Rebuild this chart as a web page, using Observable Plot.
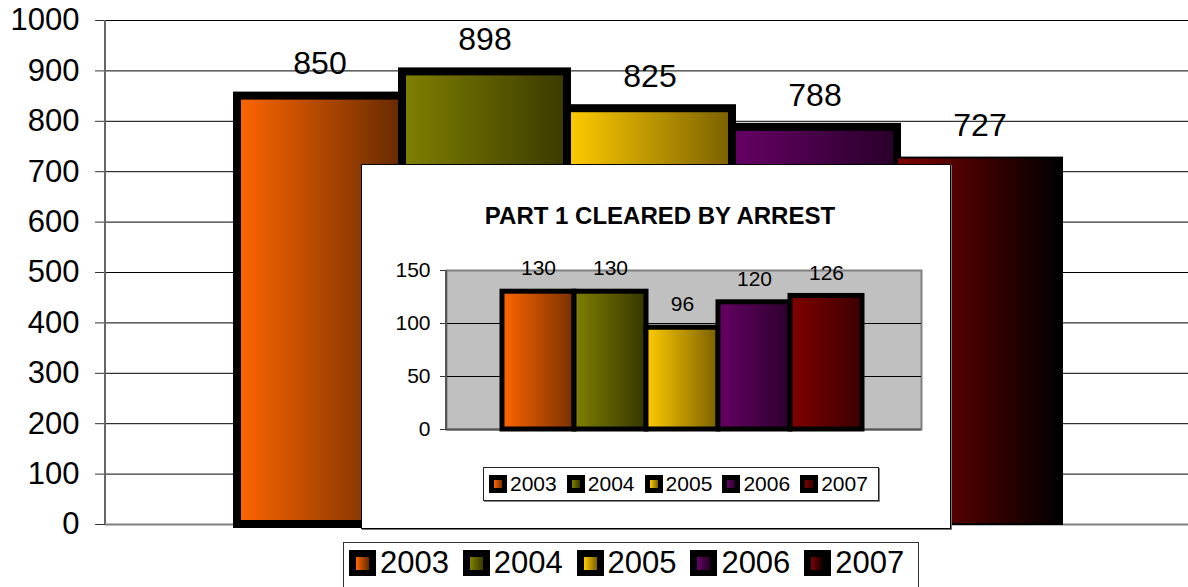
<!DOCTYPE html>
<html><head><meta charset="utf-8">
<script src="https://cdn.jsdelivr.net/npm/d3@7"></script>
<script src="https://cdn.jsdelivr.net/npm/@observablehq/plot@0.6"></script>
<style>
html,body{margin:0;padding:0;background:#fff;overflow:hidden;}
body{font-family:"Liberation Sans",Arial,sans-serif;color:#000;}
#wrap{position:relative;width:1188px;height:587px;overflow:hidden;}
#main{position:absolute;left:0;top:0;}
#inset{position:absolute;left:361px;top:164px;width:590px;height:365px;box-sizing:border-box;border:1px solid #000;background:#fff;box-shadow:1px 1px 0 #777;}
#insetTitle{position:absolute;left:4px;top:38px;width:100%;text-align:center;font-weight:bold;font-size:24px;line-height:26px;}
#insetPlot{position:absolute;left:0;top:80px;}
.legend{position:absolute;box-sizing:border-box;background:#fff;display:flex;align-items:center;}
#insetLegend{left:121px;top:302px;width:396px;height:34px;border:1px solid #222;box-shadow:1px 1px 0 #888;padding-left:5px;}
#mainLegend{left:343px;top:542px;width:576px;height:60px;border:1px solid #333;padding-left:5px;align-items:flex-start;padding-top:7px;}
.item{display:flex;align-items:center;}
#insetLegend .item{width:78px;font-size:21px;}
#mainLegend .item{width:115px;font-size:31px;height:26px;}
.sw{background:#000;display:flex;align-items:center;justify-content:center;flex:none;}
#insetLegend .sw{width:18px;height:18px;margin-right:3px;}
#insetLegend .sw span{width:8px;height:8px;display:block;}
#mainLegend .sw{width:27px;height:26px;margin-right:4px;}
#mainLegend .sw span{width:13px;height:13px;display:block;}
</style></head><body>
<div id="wrap">
  <div id="main"></div>
  <div id="inset">
    <div id="insetTitle"></div>
    <div id="insetPlot"></div>
    <div id="insetLegend" class="legend"></div>
  </div>
  <div id="mainLegend" class="legend"></div>
</div>
<script>
// ---- data ----
const years = ["2003", "2004", "2005", "2006", "2007"];
const totalValues = [850, 898, 825, 788, 727];
const arrestValues = [130, 130, 96, 120, 126];
const mainTicks = [0, 100, 200, 300, 400, 500, 600, 700, 800, 900, 1000];
const insetTicks = [0, 50, 100, 150];
const insetTitle = "PART 1 CLEARED BY ARREST";

// ---- styles ----
const startColors = ["#FF6600", "#808000", "#FFCC00", "#660066", "#800000"];
const insetEndColors = ["#783000", "#363600", "#7A6000", "#2C002C", "#3C0000"];
const mainEndColors = ["#662A00", "#3A3A00", "#7A6000", "#280028", "#000000"];
const FONT = '"Liberation Sans", Arial, sans-serif';

const mainData = years.map((y, i) => ({year: y, value: totalValues[i]}));
const insetData = years.map((y, i) => ({year: y, value: arrestValues[i]}));

function addGradients(svg, prefix, ends) {
  const defs = d3.select(svg).insert("defs", ":first-child");
  years.forEach((y, i) => {
    const g = defs.append("linearGradient").attr("id", prefix + y)
      .attr("x1", "0").attr("x2", "1").attr("y1", "0").attr("y2", "0");
    g.append("stop").attr("offset", "0").attr("stop-color", startColors[i]);
    g.append("stop").attr("offset", "1").attr("stop-color", ends[i]);
  });
}

function leftLine(color, w) {
  return (index, scales, values, dims) => d3.create("svg:line")
    .attr("x1", dims.marginLeft).attr("x2", dims.marginLeft)
    .attr("y1", dims.marginTop).attr("y2", dims.height - dims.marginBottom)
    .attr("stroke", color).attr("stroke-width", w).node();
}

// ---- main chart ----
const mainPlot = Plot.plot({
  width: 1188, height: 540,
  marginLeft: 105, marginRight: 0, marginTop: 20, marginBottom: 16,
  style: {fontFamily: FONT, background: "transparent", color: "#000", overflow: "visible"},
  x: {domain: years, range: [237, 1062], padding: 0, axis: null},
  y: {domain: [0, 1000], label: null},
  color: {domain: years, range: years.map(y => `url(#gm-${y})`)},
  marks: [
    Plot.gridY(mainTicks, {stroke: "#000", strokeOpacity: 1, strokeWidth: 1}),
    Plot.axisY(mainTicks, {tickSize: 10, tickPadding: 16, fontSize: 31, stroke: "#333", label: null, tickFormat: d => String(d)}),
    leftLine("#666", 2),
    Plot.ruleY([0], {stroke: "#808080", strokeWidth: 2}),
    Plot.barY(mainData, {x: "year", y: "value", fill: "year", stroke: "#000",
      strokeWidth: d => d.year === "2007" ? 2 : 8}),
    Plot.text(mainData, {x: "year", y: "value", text: d => String(d.value), dy: -32, fontSize: 32, fill: "#000"})
  ]
});
addGradients(mainPlot, "gm-", mainEndColors);
document.getElementById("main").appendChild(mainPlot);

// ---- inset chart ----
document.getElementById("insetTitle").textContent = insetTitle;
const insetPlot = Plot.plot({
  width: 588, height: 194,
  marginLeft: 84, marginRight: 29, marginTop: 25, marginBottom: 10,
  style: {fontFamily: FONT, background: "transparent", color: "#000", overflow: "visible"},
  x: {domain: years, range: [139, 501.5], padding: 0, axis: null},
  y: {domain: [0, 150], label: null},
  color: {domain: years, range: years.map(y => `url(#gi-${y})`)},
  marks: [
    Plot.frame({fill: "#C0C0C0", stroke: "#808080", strokeWidth: 2}),
    Plot.gridY([50, 100], {stroke: "#000", strokeOpacity: 1, strokeWidth: 1}),
    Plot.axisY(insetTicks, {tickSize: 6, tickPadding: 10, fontSize: 21, stroke: "#333", label: null, tickFormat: d => String(d)}),
    leftLine("#555", 2),
    Plot.ruleY([0], {stroke: "#555", strokeWidth: 2}),
    Plot.barY(insetData, {x: "year", y: "value", fill: "year", stroke: "#000", strokeWidth: 5}),
    Plot.text(insetData, {x: "year", y: "value", text: d => String(d.value), dy: -23, fontSize: 21, fill: "#000"})
  ]
});
addGradients(insetPlot, "gi-", insetEndColors);
document.getElementById("insetPlot").appendChild(insetPlot);

// ---- legends ----
function buildLegend(id, ends) {
  const el = document.getElementById(id);
  years.forEach((y, i) => {
    const item = document.createElement("div");
    item.className = "item";
    const sw = document.createElement("div");
    sw.className = "sw";
    const inner = document.createElement("span");
    inner.style.background = `linear-gradient(to right, ${startColors[i]}, ${ends[i]})`;
    sw.appendChild(inner);
    const t = document.createElement("span");
    t.textContent = y;
    item.appendChild(sw);
    item.appendChild(t);
    el.appendChild(item);
  });
}
buildLegend("insetLegend", insetEndColors);
buildLegend("mainLegend", mainEndColors);
</script>
</body></html>
